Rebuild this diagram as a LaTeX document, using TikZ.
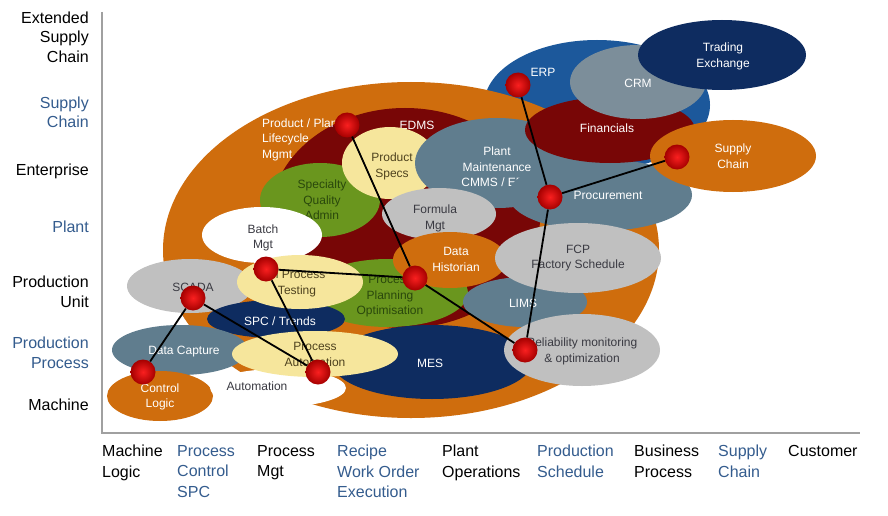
\documentclass[tikz,border=0pt]{standalone}
\usepackage{fontspec}
\setmainfont{Liberation Sans}
\definecolor{cOrange}{RGB}{207,109,13}
\definecolor{cMaroon}{RGB}{120,6,6}
\definecolor{cNavy}{RGB}{14,44,96}
\definecolor{cBlue}{RGB}{28,88,155}
\definecolor{cSlate}{RGB}{96,125,142}
\definecolor{cCRM}{RGB}{124,142,154}
\definecolor{cGray}{RGB}{192,192,192}
\definecolor{cYellow}{RGB}{246,230,156}
\definecolor{cGreen}{RGB}{106,150,30}
\definecolor{cAxisBlue}{RGB}{52,92,142}
\definecolor{cDarkGreen}{RGB}{42,72,12}
\definecolor{cDarkText}{RGB}{58,58,66}
\definecolor{cOlive}{RGB}{78,66,30}
\definecolor{cAxis}{RGB}{160,160,160}
\begin{document}
\begin{tikzpicture}[x=1pt,y=-1pt,
  lbl/.style={font=\fontsize{12}{15.5}\selectfont, align=center, inner sep=0pt},
  wlbl/.style={lbl, text=white},
  dlbl/.style={lbl, text=cDarkText},
  glbl/.style={lbl, text=cDarkGreen},
  olbl/.style={lbl, text=cOlive},
  ylab/.style={font=\fontsize{16}{19.5}\selectfont, align=right, anchor=east, inner sep=0pt},
  xlab/.style={font=\fontsize{16}{20.5}\selectfont, align=left, anchor=north west, inner sep=0pt},
  bead/.style={circle, minimum size=25pt, inner sep=0pt,
    inner color={rgb,255:red,250;green,32;blue,32},
    outer color={rgb,255:red,165;green,0;blue,0}},
  link/.style={line width=1.8pt, black},
  axisline/.style={line width=1.2pt, cAxis}
]
\useasboundingbox (0,0) rectangle (888,516);
\fill[white] (0,0) rectangle (888,516);

% axes
\coordinate (ytop) at (102,12);
\coordinate (orig) at (102,433);
\coordinate (xend) at (860,433);
\draw[axisline] (ytop) -- (orig) -- (xend);

% y-axis labels
\node[ylab] (yESC) at (89,37) {Extended\\Supply\\Chain};
\node[ylab, text=cAxisBlue] (ySC) at (89,112.5) {Supply\\Chain};
\node[ylab] (yEnt) at (89,171.5) {Enterprise};
\node[ylab, text=cAxisBlue] (yPlant) at (89,227) {Plant};
\node[ylab] (yPU) at (89,292) {Production\\Unit};
\node[ylab, text=cAxisBlue] (yPP) at (89,353) {Production\\Process};
\node[ylab] (yMach) at (89,405) {Machine};

% x-axis labels
\node[xlab] (xML) at (102,445) {Machine\\Logic};
\node[xlab, text=cAxisBlue] (xPC) at (177,445) {Process\\Control\\SPC};
\node[xlab] (xPM) at (257,445) {Process\\Mgt};
\node[xlab, text=cAxisBlue] (xRW) at (337,445) {Recipe\\Work Order\\Execution};
\node[xlab] (xPO) at (442,445) {Plant\\Operations};
\node[xlab, text=cAxisBlue] (xPS) at (537,445) {Production\\Schedule};
\node[xlab] (xBP) at (634,445) {Business\\Process};
\node[xlab, text=cAxisBlue] (xSCh) at (718,445) {Supply\\Chain};
\node[xlab] (xCu) at (788,445) {Customer};

% ERP big blue
\fill[cBlue] (597,105) ellipse [x radius=113pt, y radius=65pt];
\node[wlbl] (tERP) at (543,72) {ERP};
% big orange
\fill[cOrange] (411,250) ellipse [x radius=248pt, y radius=168pt];
% maroon inner
\fill[cMaroon] (405,218) ellipse [x radius=135pt, y radius=110pt];
\node[wlbl] (tEDMS) at (417,125) {EDMS};
% product / plant lifecycle
\node[wlbl, align=left, anchor=north west] (tPLM) at (262,118.5) {Product / Plant\\Lifecycle\\Mgmt};
% specialty quality admin
\fill[cGreen] (320,200) ellipse [x radius=60pt, y radius=37pt];
\node[glbl] (tSQA) at (322,200) {Specialty\\Quality\\Admin};
% product specs
\fill[cYellow] (390,163) ellipse [x radius=48pt, y radius=36pt];
\node[olbl] (tPS) at (392,166.5) {Product\\Specs};
% plant maintenance
\fill[cSlate] (497,163) ellipse [x radius=82pt, y radius=45pt];
\node[wlbl] (tPM) at (497,167) {Plant\\Maintenance\\CMMS / ERP};
% procurement
\fill[cSlate] (600,195) ellipse [x radius=92pt, y radius=36pt];
\node[wlbl] (tProc) at (608,195) {Procurement};
% financials
\fill[cMaroon] (610,130) ellipse [x radius=85pt, y radius=33pt];
\node[wlbl] (tFin) at (607,128) {Financials};
% CRM
\fill[cCRM] (638,82) ellipse [x radius=68pt, y radius=37pt];
\node[wlbl] (tCRM) at (638,83) {CRM};
% trading exchange
\fill[cNavy] (722,55) ellipse [x radius=84pt, y radius=35pt];
\node[wlbl] (tTE) at (723,56.5) {Trading\\Exchange};
% supply chain
\fill[cOrange] (733,156) ellipse [x radius=83pt, y radius=36pt];
\node[wlbl] (tSCe) at (733,156) {Supply\\Chain};
% formula mgt
\fill[cGray] (439,214) ellipse [x radius=57pt, y radius=26pt];
\node[dlbl] (tFM) at (435,218.5) {Formula\\Mgt};
% process planning optimisation
\fill[cGreen] (388,293) ellipse [x radius=80pt, y radius=34pt];
\node[glbl] (tPPO) at (390,296.5) {Process\\Planning\\Optimisation};
% data historian
\fill[cOrange] (450,260) ellipse [x radius=57pt, y radius=28pt];
\node[wlbl] (tDH) at (456,259.5) {Data\\Historian};
% LIMS
\fill[cSlate] (525,302) ellipse [x radius=62pt, y radius=25pt];
\node[wlbl] (tLIMS) at (523,303) {LIMS};
% FCP
\fill[cGray] (578,258) ellipse [x radius=83pt, y radius=35pt];
\node[dlbl] (tFCP) at (578,258) {FCP\\Factory Schedule};
% MES
\fill[cNavy] (432,362) ellipse [x radius=100pt, y radius=37pt];
\node[wlbl] (tMES) at (430,363) {MES};
% reliability
\fill[cGray] (582,350) ellipse [x radius=78pt, y radius=36pt];
\node[dlbl] (tRel) at (582,351.5) {Reliability monitoring\\\& optimization};
% SCADA
\fill[cGray] (190,286) ellipse [x radius=63pt, y radius=27pt];
\node[dlbl] (tSCADA) at (193,287) {SCADA};
% SPC / Trends
\fill[cNavy] (276,319) ellipse [x radius=69pt, y radius=19pt];
\node[wlbl] (tSPC) at (280,321) {SPC / Trends};
% data capture
\fill[cSlate] (180,350) ellipse [x radius=68pt, y radius=25pt];
\node[wlbl] (tDC) at (184,352) {Data Capture};
% control logic
\fill[cOrange] (160,396) ellipse [x radius=53pt, y radius=25pt];
\node[wlbl] (tCL) at (160,397) {Control\\Logic};
% automation (white)
\fill[white] (278,388) ellipse [x radius=68pt, y radius=19pt];
\node[dlbl] (tAut) at (257,386) {Automation};
% process automation
\fill[cYellow] (315,354) ellipse [x radius=83pt, y radius=23pt];
\node[olbl] (tPA) at (315,354.5) {Process\\Automation};
% batch mgt
\fill[white] (262,235) ellipse [x radius=60pt, y radius=28pt];
\node[dlbl] (tBM) at (263,238) {Batch\\Mgt};
% in process testing
\fill[cYellow] (300,282) ellipse [x radius=63pt, y radius=27pt];
\node[olbl] (tIPT) at (297,283.5) {In Process\\Testing};

% beads
\node[bead] (bERP) at (518,85) {};
\node[bead] (bPLM) at (347,125) {};
\node[bead] (bProc) at (550,197) {};
\node[bead] (bSC) at (677,157) {};
\node[bead] (bPPO) at (415,278) {};
\node[bead] (bIPT) at (266,269) {};
\node[bead] (bSCADA) at (193,298) {};
\node[bead] (bPA) at (318,372) {};
\node[bead] (bCL) at (143,372) {};
\node[bead] (bRel) at (525,350) {};

% links
\draw[link] (bERP) -- (bProc);
\draw[link] (bProc) -- (bSC);
\draw[link] (bProc) -- (bRel);
\draw[link] (bPLM) -- (bPPO);
\draw[link] (bPPO) -- (bRel);
\draw[link] (bIPT) -- (bPPO);
\draw[link] (bIPT) -- (bPA);
\draw[link] (bSCADA) -- (bPA);
\draw[link] (bSCADA) -- (bCL);
\end{tikzpicture}
\end{document}
